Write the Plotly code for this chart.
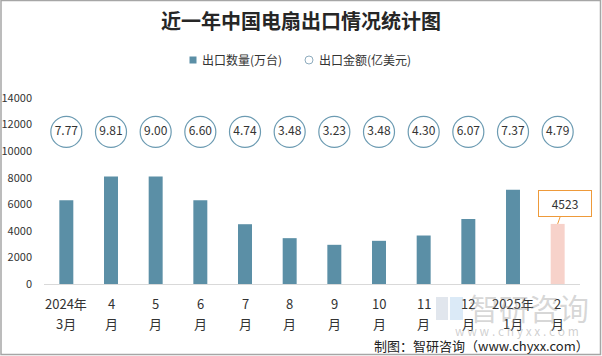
import plotly.graph_objects as go

# ---- data ----
categories = ["2024年3月", "4月", "5月", "6月", "7月", "8月", "9月", "10月", "11月", "12月", "2025年1月", "2月"]
tick_line1 = ["2024年", "4", "5", "6", "7", "8", "9", "10", "11", "12", "2025年", "2"]
tick_line2 = ["3月", "月", "月", "月", "月", "月", "月", "月", "月", "月", "1月", "月"]
export_qty = [6300, 8100, 8100, 6300, 4500, 3450, 2950, 3250, 3650, 4900, 7100, 4523]   # 万台
export_amt = [7.77, 9.81, 9.00, 6.60, 4.74, 3.48, 3.23, 3.48, 4.30, 6.07, 7.37, 4.79]    # 亿美元
series_names = ["出口数量(万台)", "出口金额(亿美元)"]
y_ticks = [0, 2000, 4000, 6000, 8000, 10000, 12000, 14000]
label_row_level = 11450  # height of the amount-label circles

FONT = "Noto Sans CJK SC, Noto Sans, sans-serif"
BAR = "#5b8fa6"
BAR_LAST = "#f7d2ca"
CIRCLE = "#6c9bb2"
TXT = "#333333"

# plot area in pixels
L, R, T, B = 44, 580, 98, 284
W, H = 602, 356
def px(x):
    return (x - L) / (R - L)
def py(y):
    return (B - y) / (B - T)

colors = [BAR] * (len(categories) - 1) + [BAR_LAST]

fig = go.Figure()
fig.add_trace(go.Bar(x=categories, y=export_qty, name=series_names[0],
                     marker=dict(color=colors, line=dict(width=0)), showlegend=False,
                     hoverinfo="x+y"))
fig.add_trace(go.Scatter(x=categories, y=[label_row_level] * len(categories), name=series_names[1],
                         mode="markers+text", text=[f"{v:.2f}" for v in export_amt],
                         textposition="middle center", textfont=dict(size=12, color=TXT, family=FONT),
                         marker=dict(symbol="circle", size=31, color="white",
                                     line=dict(color=CIRCLE, width=1.2)),
                         showlegend=False, hoverinfo="text"))

annotations = []
# x tick labels (two lines)
for c, a, b in zip(categories, tick_line1, tick_line2):
    annotations.append(dict(x=c, xref="x", y=py(303), yref="paper", text=a, showarrow=False,
                            font=dict(size=13, color=TXT, family=FONT), xanchor="center", yanchor="middle"))
    annotations.append(dict(x=c, xref="x", y=py(323), yref="paper", text=b, showarrow=False,
                            font=dict(size=13, color=TXT, family=FONT), xanchor="center", yanchor="middle"))

# callout for last bar
annotations.append(dict(x=categories[-1], y=export_qty[-1], xref="x", yref="y",
                        text=str(export_qty[-1]), showarrow=True, arrowhead=0, arrowwidth=1,
                        arrowcolor="#ee9a3a", ax=7, ay=-20, standoff=0,
                        bordercolor="#ee9a3a", borderwidth=1, borderpad=4, bgcolor="white",
                        width=44, font=dict(size=12, color=TXT, family=FONT)))

# legend (manual)
annotations.append(dict(x=px(200), y=py(60), xref="paper", yref="paper", text=series_names[0],
                        showarrow=False, xanchor="left", yanchor="middle",
                        font=dict(size=12, color=TXT, family=FONT)))
annotations.append(dict(x=px(317), y=py(60), xref="paper", yref="paper", text=series_names[1],
                        showarrow=False, xanchor="left", yanchor="middle",
                        font=dict(size=12, color=TXT, family=FONT)))

# watermark
annotations.append(dict(x=px(529), y=py(307), xref="paper", yref="paper", text="智研咨询",
                        showarrow=False, xanchor="center", yanchor="middle",
                        font=dict(size=30, color="rgba(150,150,150,0.38)", family=FONT)))
annotations.append(dict(x=px(517), y=py(330), xref="paper", yref="paper", text="w w w . c h y x x . c o m",
                        showarrow=False, xanchor="center", yanchor="middle",
                        font=dict(size=12, color="rgba(150,150,150,0.45)", family=FONT)))
# source
annotations.append(dict(x=px(591), y=py(345), xref="paper", yref="paper",
                        text="制图：智研咨询（www.chyxx.com）",
                        showarrow=False, xanchor="right", yanchor="middle",
                        font=dict(size=13, color="#222222", family=FONT)))

shapes = [
    # legend symbols
    dict(type="rect", xref="paper", yref="paper", x0=px(189.5), x1=px(196.5), y0=py(63.5), y1=py(56.5),
         fillcolor=BAR, line=dict(width=0)),
    dict(type="circle", xref="paper", yref="paper", x0=px(305), x1=px(313), y0=py(64), y1=py(56),
         fillcolor="white", line=dict(color="#8eacbe", width=1)),
    # watermark logo
    dict(type="rect", xref="paper", yref="paper", x0=px(436), x1=px(448), y0=py(320), y1=py(297),
         fillcolor="rgba(120,140,175,0.22)", line=dict(width=0)),
    dict(type="rect", xref="paper", yref="paper", x0=px(450), x1=px(463), y0=py(320), y1=py(297),
         fillcolor="rgba(110,170,225,0.25)", line=dict(width=0)),
    # outer frame
    dict(type="rect", xref="paper", yref="paper", x0=px(1), x1=px(600.5), y0=py(354.5), y1=py(0.5),
         fillcolor="rgba(0,0,0,0)", line=dict(color="#a6a6a6", width=1.5)),
]

fig.update_layout(
    width=W, height=H,
    margin=dict(l=L, r=W - R, t=T, b=H - B, pad=0, autoexpand=False),
    paper_bgcolor="white", plot_bgcolor="white",
    title=dict(text="<b>近一年中国电扇出口情况统计图</b>", x=0.5, xanchor="center",
               y=1 - 22 / H, yanchor="middle",
               font=dict(size=20, color="#262626", family=FONT)),
    bargap=0.687,
    showlegend=False,
    font=dict(family=FONT, color=TXT),
    xaxis=dict(type="category", range=[-0.5, len(categories) - 0.5], showticklabels=False,
               showline=True, linecolor="#d9d9d9",
               linewidth=1, showgrid=False, zeroline=False, ticks="", automargin=False),
    yaxis=dict(range=[0, 14000], tickvals=y_ticks, ticktext=[str(v) for v in y_ticks],
               showgrid=False, zeroline=False, showline=False, ticks="", automargin=False,
               ticklabelstandoff=11, tickfont=dict(size=11, color=TXT, family=FONT)),
    annotations=annotations,
    shapes=shapes,
)

fig.write_html("out.html", config={"displayModeBar": False},
               post_script="document.body.style.margin='0';document.body.style.overflow='hidden';")
